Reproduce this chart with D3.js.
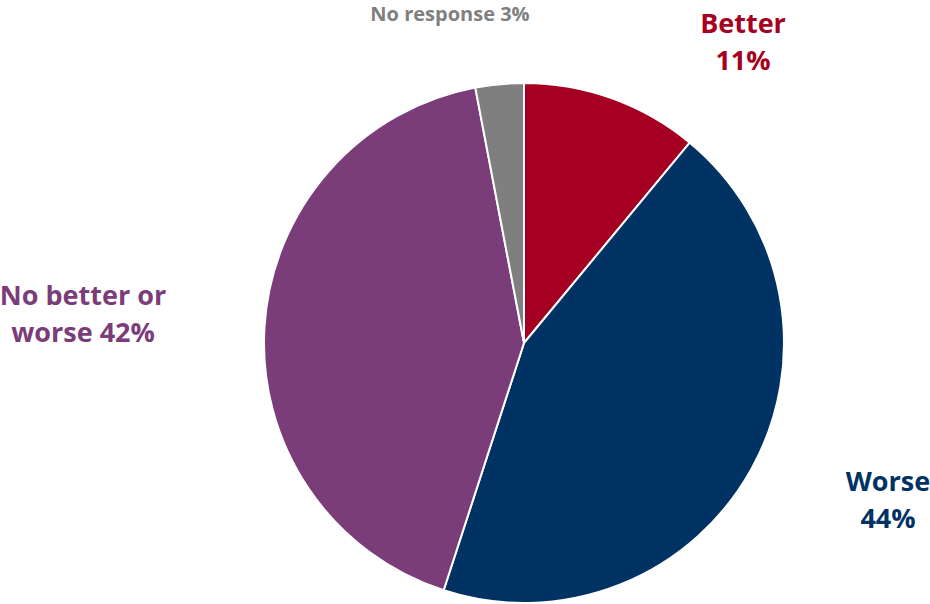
<!DOCTYPE html>
<html><head><meta charset="utf-8">
<script src="https://cdn.jsdelivr.net/npm/d3@7"></script>
<style>body{margin:0;background:#fff}</style>
</head><body>
<svg id="c" width="930" height="604"></svg>
<script>
const categories = ["Better", "Worse", "No better or worse", "No response"];
const values = [11, 44, 42, 3];
const colors = ["#A50021", "#003263", "#7B3C7A", "#7F7F7F"];
const labelLines = [["Better", "11%"], ["Worse", "44%"], ["No better or", "worse 42%"], ["No response 3%"]];
const labelPos = [[743, 33], [888, 491], [83, 305], [450, 21]];
const labelSize = [27, 27, 27, 20];

const svg = d3.select("#c");
const cx = 524, cy = 343, r = 260;
const pie = d3.pie().sort(null).value(d => d)(values);
const arc = d3.arc().innerRadius(0).outerRadius(r);
const g = svg.append("g").attr("transform", `translate(${cx},${cy})`);
g.selectAll("path").data(pie).enter().append("path")
  .attr("d", arc).attr("fill", (d, i) => colors[i])
  .attr("stroke", "#fff").attr("stroke-width", 2);

labelLines.forEach((lines, i) => {
  const t = svg.append("text").attr("text-anchor", "middle")
    .attr("font-family", "'Open Sans', sans-serif").attr("font-weight", "bold")
    .attr("font-size", labelSize[i]).attr("fill", colors[i]);
  lines.forEach((l, j) => t.append("tspan").attr("x", labelPos[i][0]).attr("y", labelPos[i][1] + j * 37).text(l));
});
</script>
</body></html>
